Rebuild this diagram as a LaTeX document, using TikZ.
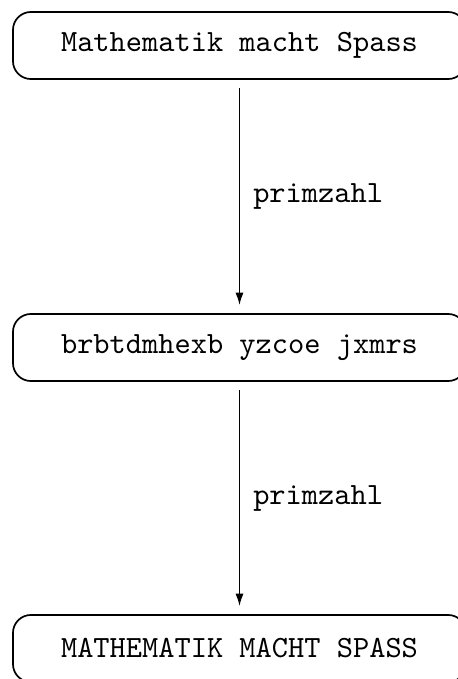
\documentclass[tikz,border=0pt]{standalone}
\usetikzlibrary{arrows.meta}
\begin{document}
\begin{tikzpicture}[x=0.3236pt,y=-0.3236pt,
  textbox/.style={draw,line width=0.55pt,rounded corners=5.8pt,minimum width=146.6pt,minimum height=21.7pt,inner sep=0pt,font=\ttfamily},
  flow/.style={-{Latex[length=4pt,width=2.6pt]},line width=0.5pt,shorten <=2.6pt,shorten >=2.6pt},
  lbl/.style={font=\ttfamily,anchor=west,inner sep=0pt,xshift=4.2pt}]
\useasboundingbox (0,0) rectangle (458,679);
\node[textbox] (a) at (239.5,45.5) {Mathematik macht Spass};
\node[textbox] (b) at (239.5,347.5) {brbtdmhexb yzcoe jxmrs};
\node[textbox] (c) at (239.5,648.5) {MATHEMATIK MACHT SPASS};
\draw[flow] (a) -- node[lbl] {primzahl} (b);
\draw[flow] (b) -- node[lbl] {primzahl} (c);
\end{tikzpicture}
\end{document}
